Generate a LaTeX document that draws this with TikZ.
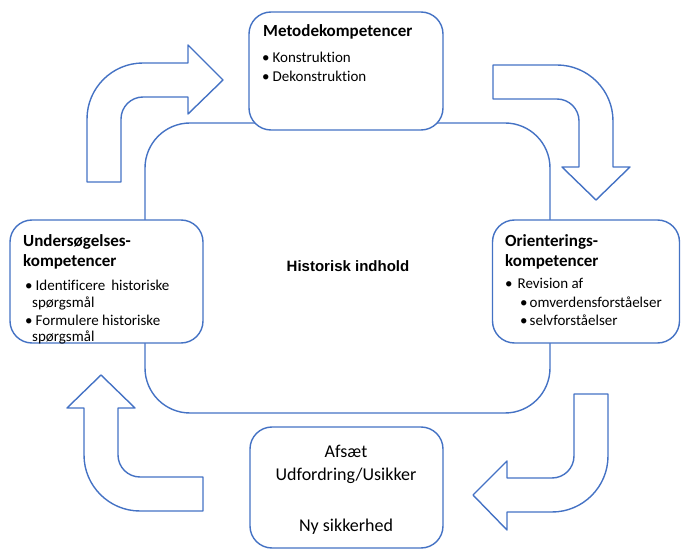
\documentclass[tikz,border=0pt]{standalone}
\usepackage{fontspec}
\setmainfont{Carlito}[RawFeature={-liga}]
\newfontfamily\arialf{Liberation Sans}
\definecolor{obl}{RGB}{68,114,196}
\begin{document}
\begin{tikzpicture}[x=1pt,y=1pt,
  ln/.style={draw=obl,line width=1.4pt,line join=round},
  box/.style={ln,fill=white,rounded corners=22pt,inner sep=0pt},
  ttl/.style={anchor=base west,inner sep=0pt,font=\fontsize{17}{20}\selectfont\bfseries},
  txt/.style={anchor=base west,inner sep=0pt,font=\fontsize{15}{18}\selectfont},
  ctxt/.style={anchor=base,inner sep=0pt,font=\fontsize{18}{21}\selectfont}]
\useasboundingbox (0,0) rectangle (681,550);
% central rounded rectangle
\draw[ln,rounded corners=45pt] (145,137) rectangle (550,427);
\node[anchor=base,inner sep=0pt,font=\arialf\fontsize{15}{18}\selectfont\bfseries] (hist) at (348,278) {Historisk indhold};
% boxes
\node[box,minimum width=194pt,minimum height=118pt] (meto) at (346,479) {};
\node[box,minimum width=193pt,minimum height=123pt] (unders) at (106.5,268.5) {};
\node[box,minimum width=187pt,minimum height=123pt] (orient) at (586,268.5) {};
\node[box,minimum width=193pt,minimum height=121pt] (afsaet) at (346.5,62.5) {};
% arrows
\draw[ln] (87,368) -- (87,431) arc[start angle=180,end angle=90,radius=56pt]
  -- (188,487) -- (188,505) -- (223,470) -- (188,436) -- (188,453) -- (143,453)
  arc[start angle=90,end angle=180,radius=22pt] -- (121,368) -- cycle;
\draw[ln] (493,485) -- (557,485) arc[start angle=90,end angle=0,radius=56pt]
  -- (613,383) -- (630,383) -- (596,350) -- (562,383) -- (579,383) -- (579,429)
  arc[start angle=0,end angle=90,radius=22pt] -- (493,451) -- cycle;
\draw[ln] (574,156) -- (608,156) -- (608,94) arc[start angle=0,end angle=-90,radius=56pt]
  -- (507,38) -- (507,20) -- (473,55) -- (507,89) -- (507,72) -- (552,72)
  arc[start angle=-90,end angle=0,radius=22pt] -- cycle;
\draw[ln] (203,39) -- (140,39) arc[start angle=-90,end angle=-180,radius=56pt]
  -- (84,142) -- (67,142) -- (101,175) -- (135,142) -- (118,142) -- (118,95)
  arc[start angle=180,end angle=270,radius=22pt] -- (203,73) -- cycle;
% texts: Metodekompetencer
\node[ttl] (m1) at (263,513) {Metodekompetencer};
\node[txt] (m2) at (262,487) {•\hspace{3pt}Konstruktion};
\node[txt] (m3) at (262,468) {•\hspace{3pt}Dekonstruktion};
% Undersøgelseskompetencer
\node[ttl] (u1) at (23,303) {Undersøgelses-};
\node[ttl] (u2) at (23,283) {kompetencer};
\node[txt] (u3) at (25,259) {•\hspace{3pt}Identificere\hspace{6pt}historiske};
\node[txt] (u4) at (32,243) {spørgsmål};
\node[txt] (u5) at (25,224) {•\hspace{3pt}Formulere historiske};
\node[txt] (u6) at (32,208) {spørgsmål};
% Orienteringskompetencer
\node[ttl] (o1) at (505,303) {Orienterings-};
\node[ttl] (o2) at (505,283) {kompetencer};
\node[txt] (o3) at (505,261) {•\hspace{5pt}Revision af};
\node[txt] (o4) at (520,242) {•\hspace{2pt}omverdensforståelser};
\node[txt] (o5) at (520,225) {•\hspace{2pt}selvforståelser};
% bottom box
\node[ctxt] (a1) at (346,93) {Afsæt};
\node[ctxt] (a2) at (346,70) {Udfordring/Usikker};
\node[ctxt] (a3) at (346,19) {Ny sikkerhed};
\end{tikzpicture}
\end{document}
